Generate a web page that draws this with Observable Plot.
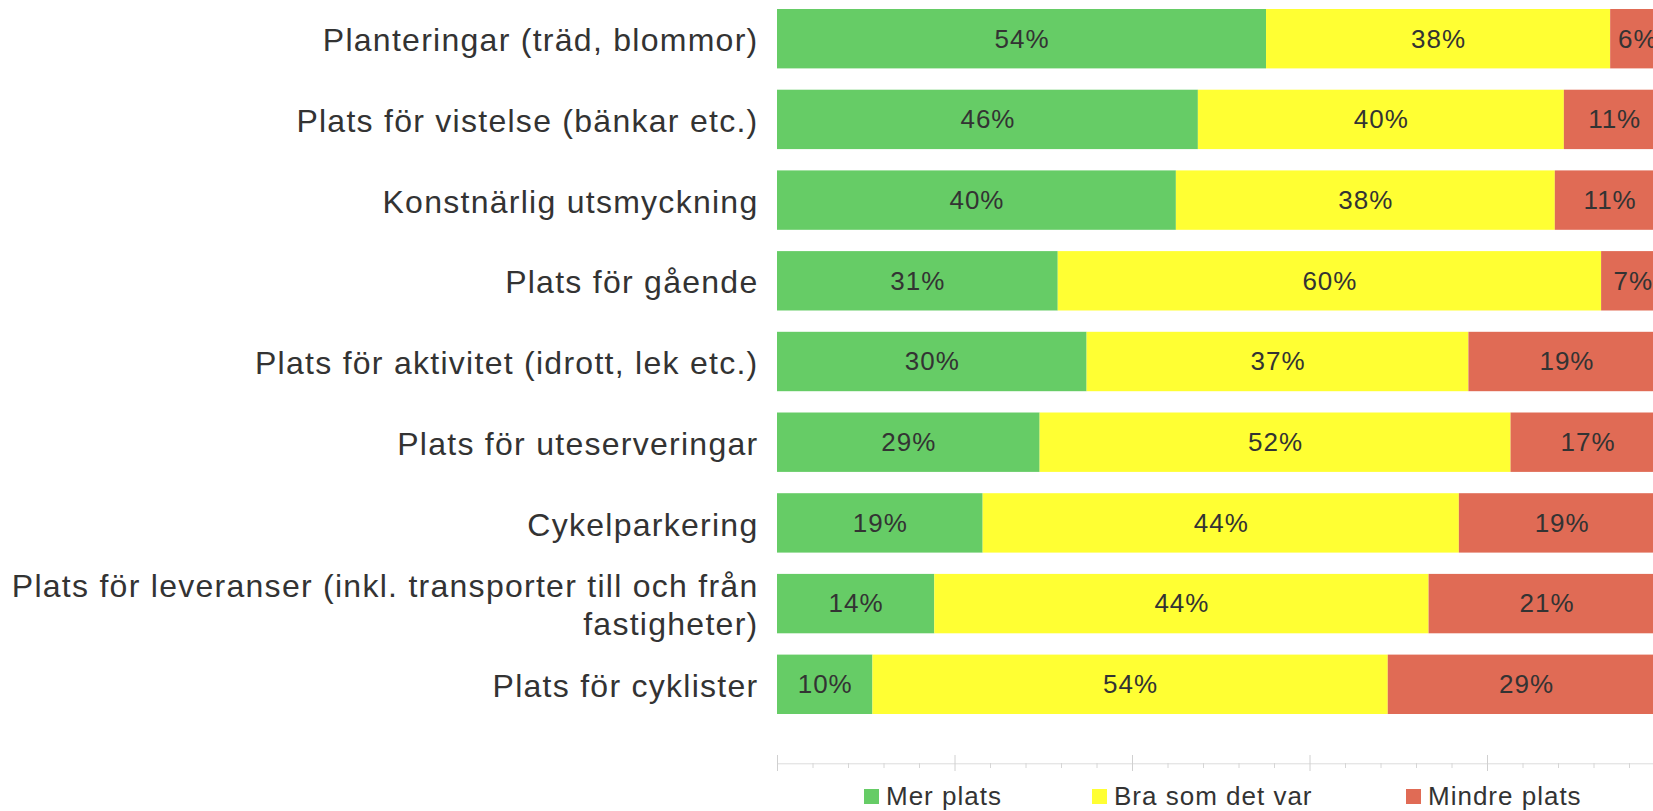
<!DOCTYPE html>
<html>
<head>
<meta charset="utf-8">
<script src="https://cdn.jsdelivr.net/npm/d3@7"></script>
<script src="https://cdn.jsdelivr.net/npm/@observablehq/plot@0.6"></script>
<style>
  html, body { margin: 0; padding: 0; background: #fff; overflow: hidden; }
  #wrap { position: relative; width: 1653px; height: 811px; }
  #chart svg { overflow: hidden; max-width: none; }
  #chart svg g[font-size="32"] { letter-spacing: 1.27px; }
  .legend-item { position: absolute; top: 781px; height: 30px; display: flex; align-items: center;
    font-family: "Liberation Sans", Arial, sans-serif; font-size: 26px; letter-spacing: 1px; color: #333; line-height: 30px; }
  .legend-item .sw { width: 15px; height: 15px; margin-right: 7px; }
</style>
</head>
<body>
<div id="wrap">
  <div id="chart"></div>
  <div id="legend"></div>
</div>
<script>
const categories = [
  "Planteringar (träd, blommor)",
  "Plats för vistelse (bänkar etc.)",
  "Konstnärlig utsmyckning",
  "Plats för gående",
  "Plats för aktivitet (idrott, lek etc.)",
  "Plats för uteserveringar",
  "Cykelparkering",
  "Plats för leveranser (inkl. transporter till och från\nfastigheter)",
  "Plats för cyklister"
];
const seriesNames = ["Mer plats", "Bra som det var", "Mindre plats"];
const merPlats     = [54, 46, 40, 31, 30, 29, 19, 14, 10];
const braSomDetVar = [38, 40, 38, 60, 37, 52, 44, 44, 54];
const mindrePlats  = [6, 11, 11, 7, 19, 17, 19, 21, 29];
const seriesColors = ["#66cc66", "#ffff33", "#e06b55"];
const majorTicks = [0, 0.2, 0.4, 0.6, 0.8, 1.0];
const minorTicks = [0.04, 0.08, 0.12, 0.16, 0.24, 0.28, 0.32, 0.36, 0.44, 0.48, 0.52, 0.56,
                    0.64, 0.68, 0.72, 0.76, 0.84, 0.88, 0.92, 0.96];

const seriesValues = [merPlats, braSomDetVar, mindrePlats];
const table = [];
categories.forEach((c, i) => {
  seriesNames.forEach((s, j) => {
    table.push({category: c, series: s, value: seriesValues[j][i]});
  });
});

const W = 1653, H = 780;
const chart = Plot.plot({
  width: W,
  height: H,
  marginLeft: 777,
  marginRight: 0,
  marginTop: 0,
  marginBottom: 9,
  style: {fontFamily: "'Liberation Sans', Arial, sans-serif", letterSpacing: "1px", background: "#fff", overflow: "hidden"},
  x: {domain: [0, 1], range: [777, 1664.5], axis: null},
  y: {domain: categories, range: [-1.65, 724.65], paddingInner: 0.264, paddingOuter: 0.132, round: false, axis: null},
  color: {domain: seriesNames, range: seriesColors},
  marks: [
    Plot.barX(table, Plot.stackX({x: "value", y: "category", z: "series", fill: "series", offset: "normalize"})),
    Plot.text(table, Plot.stackX({x: "value", y: "category", z: "series", offset: "normalize",
      text: d => d.value + "%", fontSize: 26, fill: "#333"})),
    Plot.text(categories, {y: d => d, text: d => d, frameAnchor: "left", textAnchor: "end", dx: -19,
      fontSize: 32, lineHeight: 1.19, fill: "#333"}),
    Plot.ruleY([categories[categories.length - 1]], {dy: 79, stroke: "#dcdcdc", strokeWidth: 1}),
    Plot.ruleX(majorTicks, {x: d => d, insetTop: 755, stroke: "#d0d0d0", strokeWidth: 1}),
    Plot.ruleX(minorTicks, {x: d => d, insetTop: 763, insetBottom: 3, stroke: "#d6d6d6", strokeWidth: 1})
  ]
});
document.getElementById("chart").appendChild(chart);

const legendLefts = [864, 1092, 1406];
const legend = document.getElementById("legend");
seriesNames.forEach((s, j) => {
  const item = document.createElement("div");
  item.className = "legend-item";
  item.style.left = legendLefts[j] + "px";
  const sw = document.createElement("span");
  sw.className = "sw";
  sw.style.background = seriesColors[j];
  const t = document.createElement("span");
  t.textContent = s;
  item.appendChild(sw);
  item.appendChild(t);
  legend.appendChild(item);
});
</script>
</body>
</html>
